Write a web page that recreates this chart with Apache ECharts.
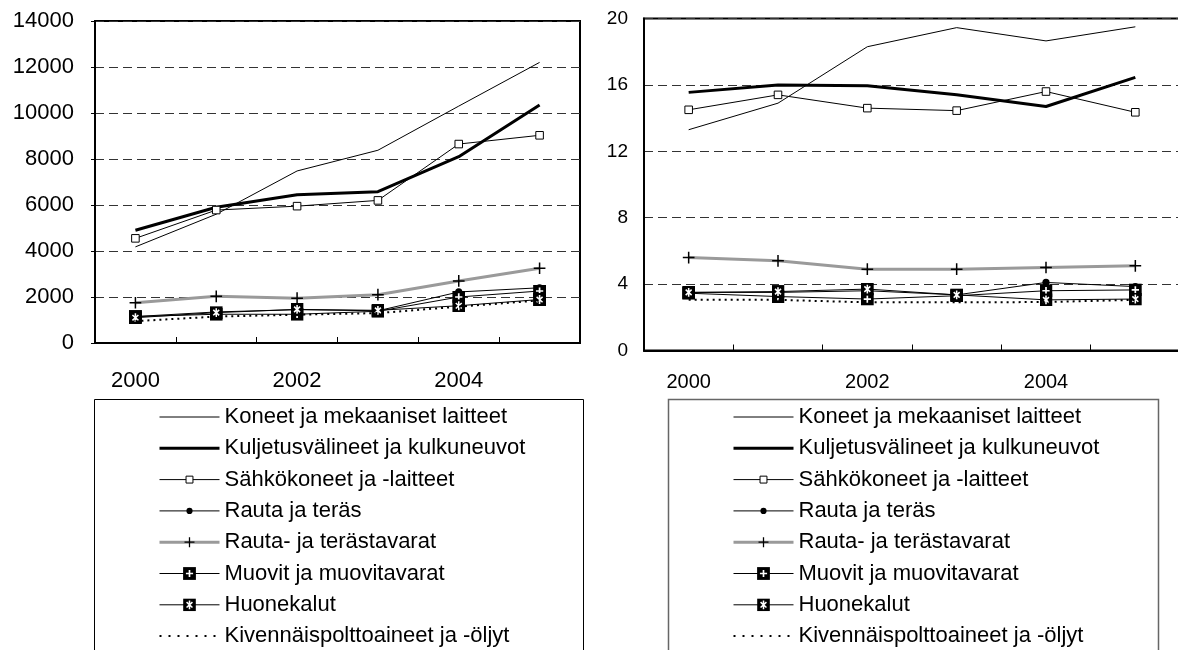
<!DOCTYPE html>
<html>
<head>
<meta charset="utf-8">
<script src="https://cdn.jsdelivr.net/npm/echarts@6/dist/echarts.min.js"></script>
<style>
html, body { margin: 0; padding: 0; background: #fff; }
#chart { width: 1178px; height: 650px; }
</style>
</head>
<body>
<div id="chart"></div>
<script>
// --- data ---
const years = ['2000', '2001', '2002', '2003', '2004', '2005'];
const names = [
  'Koneet ja mekaaniset laitteet',
  'Kuljetusvälineet ja kulkuneuvot',
  'Sähkökoneet ja -laitteet',
  'Rauta ja teräs',
  'Rauta- ja terästavarat',
  'Muovit ja muovitavarat',
  'Huonekalut',
  'Kivennäispolttoaineet ja -öljyt'
];

// left chart
const koneetA   = [4180, 5600, 7480, 8380, 10300, 12200];
const kuljetusA = [4900, 5900, 6450, 6580, 8100, 10350];
const sahkoA    = [4550, 5780, 5950, 6200, 8650, 9030];
const rautaA    = [1150, 1350, 1450, 1400, 2220, 2400];
const tavaratA  = [1750, 2030, 1950, 2100, 2700, 3250];
const muovitA   = [1150, 1250, 1250, 1380, 2000, 2260];
const huoneA    = [1100, 1320, 1460, 1420, 1620, 1890];
const kivenA    = [950, 1150, 1230, 1300, 1580, 1850];

// right chart
const koneetB   = [13.3, 14.9, 18.3, 19.45, 18.65, 19.5];
const kuljetusB = [15.55, 16.0, 15.95, 15.4, 14.7, 16.45];
const sahkoB    = [14.5, 15.4, 14.6, 14.45, 15.6, 14.35];
const rautaB    = [3.5, 3.5, 3.6, 3.35, 4.1, 3.85];
const tavaratB  = [5.6, 5.4, 4.9, 4.9, 5.0, 5.1];
const muovitB   = [3.45, 3.25, 3.1, 3.3, 3.6, 3.65];
const huoneB    = [3.5, 3.55, 3.7, 3.35, 3.05, 3.1];
const kivenB    = [3.05, 3.05, 2.9, 2.9, 2.92, 3.05];

// axis scales: min, max, step
const scaleA = [0, 14000, 2000];
const scaleB = [0, 20, 4];

const seriesA = [koneetA, kuljetusA, sahkoA, rautaA, tavaratA, muovitA, huoneA, kivenA];
const seriesB = [koneetB, kuljetusB, sahkoB, rautaB, tavaratB, muovitB, huoneB, kivenB];

// --- markers ---
const svgIcon = body => 'image://data:image/svg+xml;charset=utf-8,' + encodeURIComponent(
  '<svg xmlns="http://www.w3.org/2000/svg" width="40" height="40" viewBox="0 0 10 10">' +
  '<rect width="10" height="10" fill="#000"/>' + body + '</svg>');
const PLUS_BOX = svgIcon('<path d="M5 2.2V7.8M2.2 5H7.8" stroke="#fff" stroke-width="1.3" fill="none"/>');
const STAR_BOX = svgIcon('<path d="M2.7 2.9L7.3 7.1M7.3 2.9L2.7 7.1M5 1.6V8.4" stroke="#fff" stroke-width="1.2" fill="none"/>');
const EMPTY = 'path://M0,0M10,10';
const SQUARE = 'path://M0,0M10,10M2.3,2.3H7.7V7.7H2.3Z';
const DOT = 'path://M0,0M10,10M7.4,5A2.4,2.4,0,1,1,2.6,5A2.4,2.4,0,1,1,7.4,5Z';
const PLUS = 'path://M0,0M10,10M4.5,1.1H5.5V4.5H8.9V5.5H5.5V8.9H4.5V5.5H1.1V4.5H4.5Z';

const looks = [
  { symbol: EMPTY, size: 0, line: { color: '#000', width: 1 } },
  { symbol: EMPTY, size: 0, line: { color: '#000', width: 3 } },
  { symbol: SQUARE, size: 14, line: { color: '#000', width: 1 }, item: { color: '#fff', borderColor: '#000', borderWidth: 1 } },
  { symbol: DOT, size: 15, line: { color: '#000', width: 1 }, item: { color: '#000', borderWidth: 0 } },
  { symbol: PLUS, size: 15, line: { color: '#9a9a9a', width: 3 }, item: { color: '#000', borderWidth: 0 } },
  { symbol: PLUS_BOX, size: 13, line: { color: '#000', width: 1 }, item: { color: '#000', borderWidth: 0 } },
  { symbol: STAR_BOX, size: 13, line: { color: '#000', width: 1 }, item: { color: '#000', borderWidth: 0 } },
  { symbol: EMPTY, size: 0, line: { color: '#000', width: 2, type: [2, 4] } }
];

function makeSeries(values, axisIdx) {
  return values.map((data, i) => {
    const lk = looks[i];
    return {
      name: names[i],
      type: 'line',
      xAxisIndex: axisIdx,
      yAxisIndex: axisIdx,
      data: data,
      symbol: lk.symbol,
      symbolSize: lk.size,
      showSymbol: lk.size > 0,
      lineStyle: lk.line,
      itemStyle: lk.item || { color: '#000', borderWidth: 0 },
      emphasis: { disabled: true },
      z: 2 + i * 0.01
    };
  });
}

const legendData = names.map((n, i) => {
  const lk = looks[i];
  return {
    name: n,
    lineStyle: {
      color: lk.line.color,
      width: lk.line.width,
      type: i === 7 ? [2, 7] : 'solid'
    },
    itemStyle: lk.item || { color: '#000', borderWidth: 0 }
  };
});

function legendAt(left) {
  return {
    orient: 'vertical',
    left: left,
    top: 406,
    padding: 0,
    itemWidth: 60,
    itemHeight: 16,
    itemGap: 9.3,
    selectedMode: false,
    textStyle: { fontSize: 22, lineHeight: 22, color: '#000' },
    data: legendData
  };
}

function yAxisFor(gridIdx, scale, font, margin, ticks) {
  return {
    type: 'value',
    gridIndex: gridIdx,
    min: scale[0],
    max: scale[1],
    interval: scale[2],
    axisLine: { show: true, lineStyle: { color: '#000', width: 2 } },
    axisTick: { show: ticks, length: 4, lineStyle: { color: '#000' } },
    axisLabel: { fontSize: font, margin: margin, color: '#000', formatter: v => String(v) },
    splitLine: { show: true, lineStyle: { type: [9, 5], color: '#333', width: 1 } }
  };
}

function xAxisFor(gridIdx, font, margin) {
  return {
    type: 'category',
    gridIndex: gridIdx,
    data: years,
    boundaryGap: true,
    axisLine: { show: true, lineStyle: { color: '#000', width: 2 } },
    axisTick: { show: true, inside: true, length: 6, interval: 0, lineStyle: { color: '#000' } },
    axisLabel: { interval: 1, fontSize: font, margin: margin, color: '#000' },
    splitLine: { show: false }
  };
}

const chart = echarts.init(document.getElementById('chart'), null, { renderer: 'canvas' });
chart.setOption({
  animation: false,
  backgroundColor: '#fff',
  textStyle: { fontFamily: 'Liberation Sans, Arial, sans-serif', color: '#000' },
  grid: [
    { left: 95, top: 21, width: 485, height: 322, show: true, borderColor: '#000', borderWidth: 2, outerBoundsMode: 'none' },
    { left: 644, top: 18.5, width: 536, height: 332, show: true, borderColor: '#000', borderWidth: 2, outerBoundsMode: 'none' }
  ],
  xAxis: [xAxisFor(0, 22, 27), xAxisFor(1, 20, 22)],
  yAxis: [yAxisFor(0, scaleA, 22, 21, true), yAxisFor(1, scaleB, 19, 16, false)],
  legend: [legendAt(158), legendAt(732)],
  graphic: [
    { type: 'rect', shape: { x: 94.5, y: 399.5, width: 489, height: 300 }, style: { fill: 'none', stroke: '#000', lineWidth: 1 } },
    { type: 'rect', shape: { x: 668.5, y: 399.5, width: 490, height: 300 }, style: { fill: 'none', stroke: '#666', lineWidth: 1.5 } }
  ],
  series: makeSeries(seriesA, 0).concat(makeSeries(seriesB, 1))
});
</script>
</body>
</html>
